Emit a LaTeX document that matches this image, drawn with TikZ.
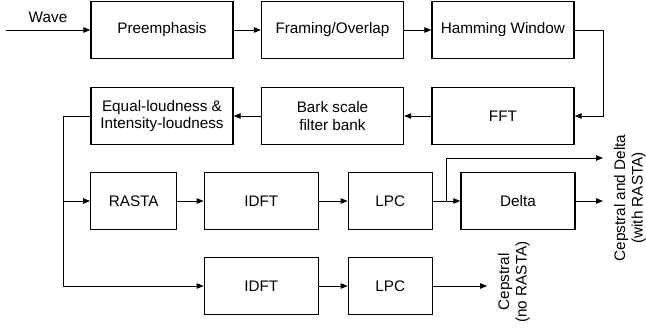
\documentclass[tikz,border=0pt]{standalone}
\usepackage{fontspec}
\setmainfont{Liberation Sans}
\usetikzlibrary{arrows.meta}
\tikzset{
	blk/.style={draw, line width=1.4pt, minimum height=57pt, inner sep=0pt, align=center},
	wide/.style={blk, minimum width=142pt},
	lnk/.style={line width=0.8pt},
	>={Triangle[length=7pt,width=5.5pt]}
}
\begin{document}
\begin{tikzpicture}[x=1pt,y=-1pt,font=\fontsize{15.3}{17.5}\selectfont]
	\useasboundingbox (0,0) rectangle (646,329);
	% first row
	\node[wide] (pre) at (162,30) {Preemphasis};
	\node[wide] (frm) at (332.5,30) {Framing/Overlap};
	\node[wide] (ham) at (503,30) {Hamming Window};
	% second row
	\node[wide] (eql) at (162,116) {Equal-loudness \&\\Intensity-loudness};
	\node[wide] (bark) at (332.5,116) {Bark scale\\filter bank};
	\node[wide] (fft) at (503,116) {FFT};
	% third row
	\node[blk, minimum width=86pt] (rasta) at (133.7,201) {RASTA};
	\node[blk, minimum width=114pt] (idft) at (261.3,201) {IDFT};
	\node[blk, minimum width=84pt] (lpc) at (390.3,201) {LPC};
	\node[blk, minimum width=114pt] (delta) at (518,201) {Delta};
	% fourth row
	\node[blk, minimum width=114pt] (idftb) at (261.3,286) {IDFT};
	\node[blk, minimum width=84pt] (lpcb) at (390.3,286) {LPC};
	\coordinate (W) at (6,30);
	\coordinate (J) at (63,201);
	\coordinate (K) at (63,286);
	\coordinate (B) at (446,201);
	\coordinate (O1) at (603,158);
	\coordinate (O2) at (603,201);
	\coordinate (O3) at (487,286);
	\node (wave) at (48,17) {Wave};
	\draw[lnk,->] (W) -- (pre.west);
	\draw[lnk,->] (pre) -- (frm);
	\draw[lnk,->] (frm) -- (ham);
	\draw[lnk,->] (ham.east) -- ++(29,0) |- (fft.east);
	\draw[lnk,->] (fft) -- (bark);
	\draw[lnk,->] (bark) -- (eql);
	\draw[lnk] (eql.west) -| (K);
	\draw[lnk,->] (K) -- (idftb.west);
	\draw[lnk,->] (J) -- (rasta.west);
	\draw[lnk,->] (rasta) -- (idft);
	\draw[lnk,->] (idft) -- (lpc);
	\draw[lnk,->] (lpc) -- (delta);
	\draw[lnk,->] (B) |- (O1);
	\draw[lnk,->] (delta.east) -- (O2);
	\draw[lnk,->] (idftb) -- (lpcb);
	\draw[lnk,->] (lpcb.east) -- (O3);
	\node[rotate=90, align=center] (outa) at (630,198) {Cepstral and Delta\\(with RASTA)};
	\node[rotate=90, align=center] (outb) at (514,282) {Cepstral\\(no RASTA)};
\end{tikzpicture}
\end{document}
